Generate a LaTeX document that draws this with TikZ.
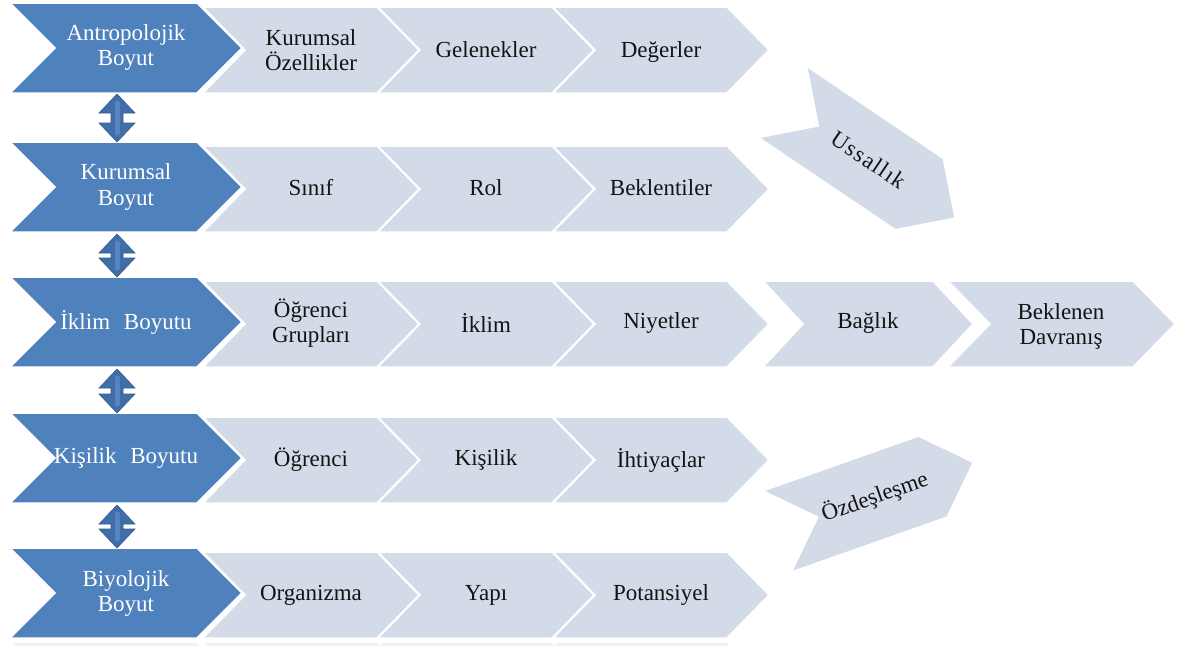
\documentclass[tikz,border=0pt]{standalone}
\usepackage{fontspec}
\setmainfont{Liberation Serif}
\usetikzlibrary{calc}
\definecolor{chevblue}{HTML}{4F81BD}
\definecolor{chevgrey}{HTML}{D4DBE8}
\definecolor{arrowblue}{HTML}{3F6EA8}
\definecolor{arrowlight}{HTML}{5584BE}
\definecolor{reflgrey}{HTML}{F1F1F1}
\definecolor{txtdark}{HTML}{141414}
\newcommand\chevshape[6]{% style, x, y, body width, height, depth
  \path[#1] (#2,#3) -- ++(#4,0) -- ++({#6},{#5/2}) -- ++({-#6},{#5/2}) -- ++({-#4},0) -- ++({#6},{-#5/2}) -- cycle;}
\newcommand\dblarrow[2]{% top tip, bottom tip
  \path[arrowstyle] (#1) -- ($(#1)+(18,19)$) -- ($(#1)+(6,19)$) -- ($(#2)+(6,-19)$) -- ($(#2)+(18,-19)$) -- (#2)
    -- ($(#2)+(-18,-19)$) -- ($(#2)+(-6,-19)$) -- ($(#1)+(-6,19)$) -- ($(#1)+(-18,19)$) -- cycle;
  \draw[arrowstreak] ($(#1)+(0,9)$) -- ($(#2)+(0,-9)$);}
\tikzset{
  bluechev/.style={fill=chevblue, draw=white, line width=1.5pt, line join=miter},
  greychev/.style={fill=chevgrey, draw=white, line width=1.5pt, line join=miter},
  reflchev/.style={fill=reflgrey, draw=white, line width=1.5pt},
  arrowstyle/.style={fill=arrowblue, draw=arrowblue!85!black, line width=0.6pt},
  arrowstreak/.style={draw=arrowlight, line width=5pt, line cap=round},
  bluetxt/.style={text=white, font=\fontsize{23}{25}\selectfont, align=center, inner sep=0pt},
  greytxt/.style={text=txtdark, font=\fontsize{23}{25}\selectfont, align=center, inner sep=0pt},
}
\begin{document}
\begin{tikzpicture}[x=1pt,y=-1pt]
\useasboundingbox[fill=white] (0,0) rectangle (1177,645);
% faint reflection at the bottom edge
\begin{scope}
  \clip (0,640) rectangle (1177,645);
  \chevshape{reflchev}{553}{642}{174}{86}{42}
  \chevshape{reflchev}{378}{642}{174}{86}{42}
  \chevshape{reflchev}{203}{642}{174}{86}{42}
  \chevshape{reflchev}{10}{642}{187}{90}{45}
\end{scope}
% ---------- grey chevrons ----------
\foreach \t in {3,142,277,413,548}{
  \chevshape{greychev}{553}{\t+4}{174}{86}{42}
  \chevshape{greychev}{378}{\t+4}{174}{86}{42}
  \chevshape{greychev}{203}{\t+4}{174}{86}{42}
}
\chevshape{greychev}{948}{281}{185}{86}{42}
\chevshape{greychev}{763}{281}{170}{86}{40}
% ---------- blue chevrons ----------
\foreach \t in {3,142,277,413,548}{
  \chevshape{bluechev}{10}{\t}{187}{90}{45}
}
% ---------- rotated chevrons ----------
\begin{scope}[shift={(851,148)}, rotate=-34]
  \chevshape{greychev}{-82.5}{-43}{165}{86}{43}
  \node[greytxt, rotate=-34] (uss) at (21,0) {\addfontfeature{LetterSpace=6}Ussallık};
\end{scope}
\begin{scope}[shift={(855,504)}, rotate=19.4]
  \chevshape{greychev}{-82.5}{-43}{165}{86}{43}
  \node[greytxt, rotate=19.4] (ozd) at (21,0) {Özdeşleşme};
\end{scope}
% ---------- texts ----------
\node[bluetxt] (b1) at (126,48) {Antropolojik\\Boyut};
\node[bluetxt] (b2) at (126,187) {Kurumsal\\Boyut};
\node[bluetxt] (b3) at (126,322) {İklim\hspace{0.35em} Boyutu};
\node[bluetxt] (b4) at (126,458) {Kişilik\hspace{0.35em} Boyutu};
\node[bluetxt] (b5) at (126,593) {Biyolojik\\Boyut};
\node[greytxt] (g11) at (311,50) {Kurumsal\\Özellikler};
\node[greytxt] (g12) at (486,50) {Gelenekler};
\node[greytxt] (g13) at (661,52) {Değerler};
\node[greytxt] (g21) at (311,188) {Sınıf};
\node[greytxt] (g22) at (486,188) {Rol};
\node[greytxt] (g23) at (661,188) {Beklentiler};
\node[greytxt] (g31) at (311,323) {Öğrenci\\Grupları};
\node[greytxt] (g32) at (486,323) {İklim};
\node[greytxt] (g33) at (661,323) {Niyetler};
\node[greytxt] (g34) at (868,323) {Bağlık};
\node[greytxt] (g35) at (1061,326) {Beklenen\\Davranış};
\node[greytxt] (g41) at (311,460) {Öğrenci};
\node[greytxt] (g42) at (486,460) {Kişilik};
\node[greytxt] (g43) at (661,460) {İhtiyaçlar};
\node[greytxt] (g51) at (311,595) {Organizma};
\node[greytxt] (g52) at (486,595) {Yapı};
\node[greytxt] (g53) at (661,595) {Potansiyel};
% ---------- double arrows between dimensions ----------
\coordinate (a1t) at (117,94);  \coordinate (a1b) at (117,142);
\coordinate (a2t) at (117,234); \coordinate (a2b) at (117,277);
\coordinate (a3t) at (117,369); \coordinate (a3b) at (117,413);
\coordinate (a4t) at (117,505); \coordinate (a4b) at (117,548);
\dblarrow{a1t}{a1b}
\dblarrow{a2t}{a2b}
\dblarrow{a3t}{a3b}
\dblarrow{a4t}{a4b}
\end{tikzpicture}
\end{document}
